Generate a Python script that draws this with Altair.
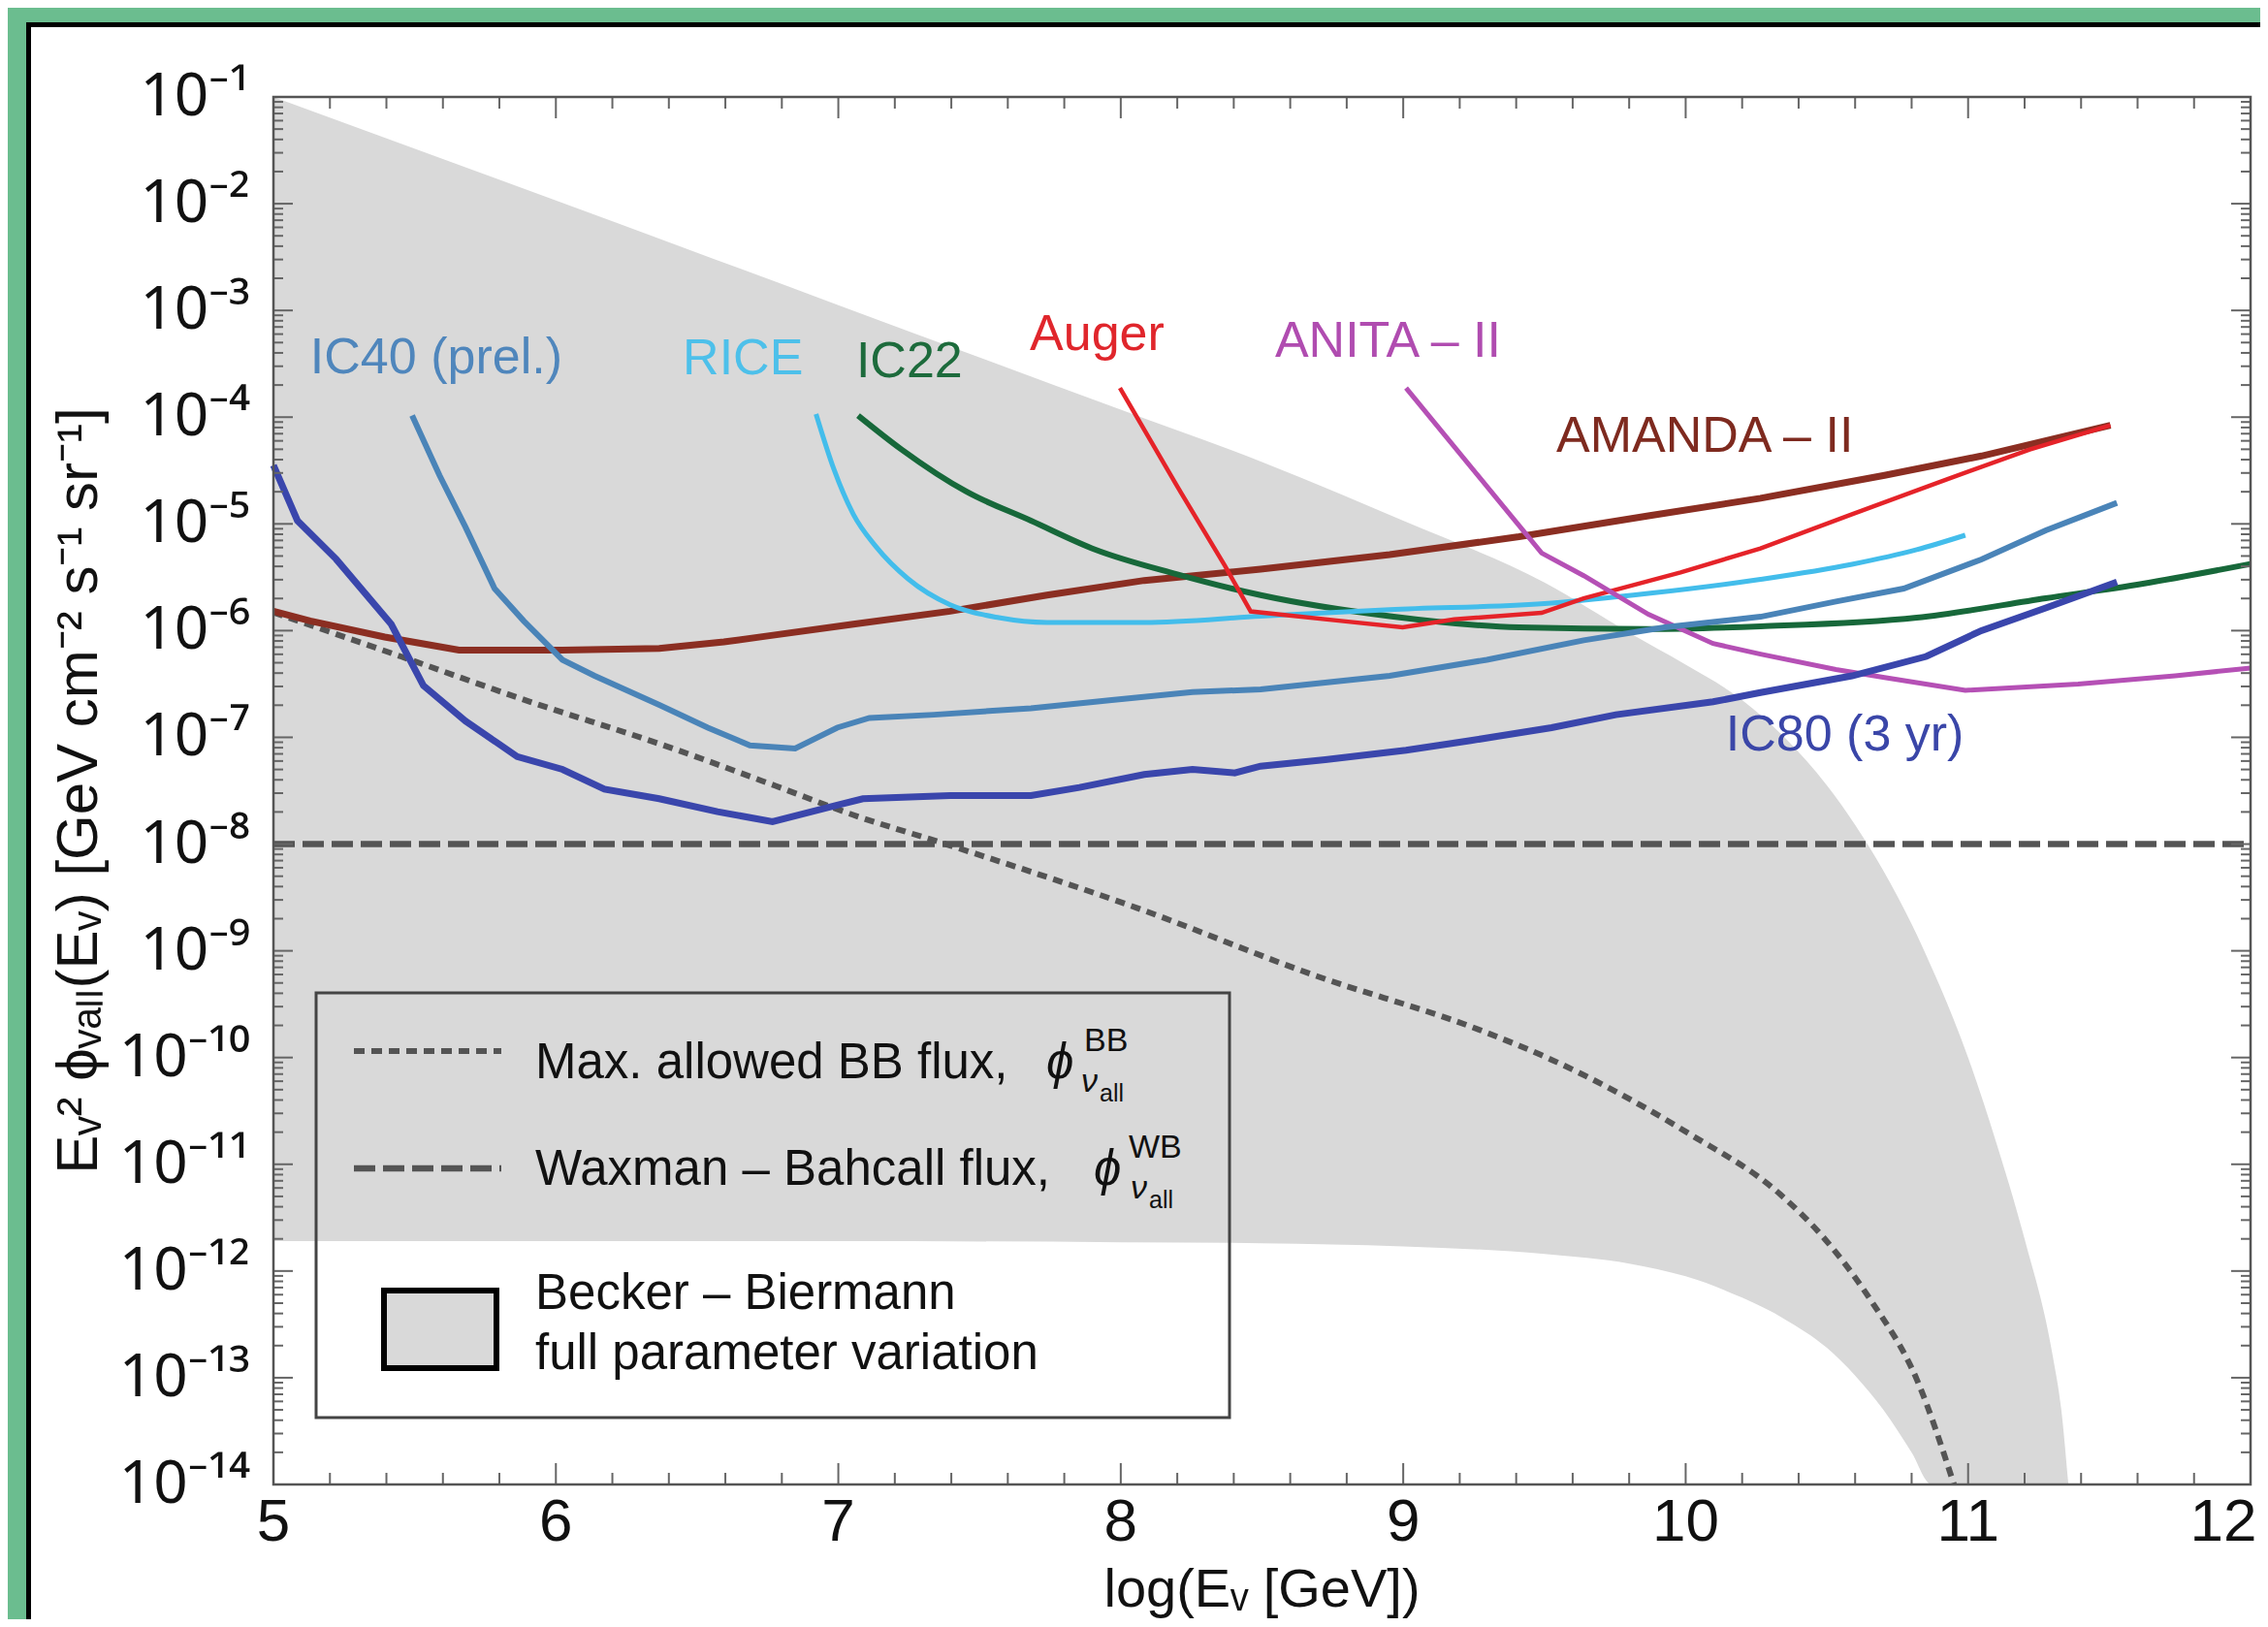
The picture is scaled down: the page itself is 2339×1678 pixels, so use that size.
import altair as alt
import pandas as pd

# ---------------- data ----------------
# x: log10(E / GeV); y: log10 of E^2 phi  [GeV cm^-2 s^-1 sr^-1]
ic80_x = [5.0, 5.085, 5.222, 5.417, 5.531, 5.68, 5.863, 6.023, 6.172, 6.366, 6.572, 6.767, 6.996, 7.087, 7.396,
          7.682, 7.854, 8.083, 8.254, 8.403, 8.495, 8.724, 9.01, 9.239, 9.525, 9.753, 10.097, 10.265, 10.589,
          10.852, 11.047, 11.275, 11.527]
ic80_y = [-4.45, -4.97, -5.33, -5.94, -6.515, -6.848, -7.18, -7.30, -7.485, -7.575, -7.697, -7.79, -7.636, -7.575,
          -7.545, -7.545, -7.469, -7.348, -7.30, -7.333, -7.27, -7.21, -7.12, -7.03, -6.91, -6.788, -6.667, -6.58,
          -6.424, -6.242, -6.0, -5.788, -5.545]

ic40_x = [5.491, 5.588, 5.68, 5.783, 5.886, 6.023, 6.137, 6.366, 6.538, 6.687, 6.847, 6.996, 7.11, 7.339, 7.682,
          7.968, 8.254, 8.495, 8.952, 9.296, 9.639, 9.925, 10.265, 10.532, 10.772, 11.047, 11.275, 11.527]
ic40_y = [-3.985, -4.545, -5.03, -5.606, -5.909, -6.273, -6.424, -6.697, -6.909, -7.075, -7.105, -6.909, -6.818,
          -6.788, -6.727, -6.651, -6.576, -6.55, -6.424, -6.273, -6.091, -5.97, -5.87, -5.727, -5.606, -5.333,
          -5.06, -4.803]

rice_x = [6.921, 6.984, 7.053, 7.133, 7.247, 7.396, 7.568, 7.739, 8.083, 8.495, 8.952, 9.525, 9.868, 10.265,
          10.589, 10.818, 10.99]
rice_y = [-3.97, -4.485, -4.909, -5.212, -5.515, -5.758, -5.879, -5.924, -5.924, -5.865, -5.803, -5.742, -5.652,
          -5.52, -5.379, -5.242, -5.106]

ic22_x = [7.07, 7.224, 7.453, 7.682, 7.911, 8.197, 8.495, 8.952, 9.41, 9.868, 10.265, 10.818, 11.275, 11.619, 12.0]
ic22_y = [-3.985, -4.303, -4.697, -4.97, -5.242, -5.47, -5.667, -5.864, -5.97, -5.985, -5.96, -5.879, -5.697,
          -5.56, -5.375]

auger_x = [7.997, 8.197, 8.369, 8.46, 8.78, 8.998, 9.181, 9.49, 9.639, 9.982, 10.265, 10.589, 10.932, 11.218, 11.504]
auger_y = [-3.727, -4.636, -5.394, -5.82, -5.909, -5.97, -5.894, -5.833, -5.697, -5.455, -5.23, -4.909, -4.576,
           -4.303, -4.076]

anita_x = [9.01, 9.49, 9.639, 9.868, 10.097, 10.265, 10.532, 10.704, 10.99, 11.39, 11.733, 12.0]
anita_y = [-3.727, -5.273, -5.485, -5.848, -6.121, -6.22, -6.364, -6.439, -6.56, -6.5, -6.424, -6.35]

amanda_x = [5.0, 5.13, 5.394, 5.657, 6.023, 6.366, 6.595, 6.75, 7.053, 7.396, 7.739, 8.083, 8.495, 8.952, 9.41,
            9.868, 10.265, 10.704, 11.047, 11.504]
amanda_y = [-5.818, -5.909, -6.06, -6.182, -6.182, -6.167, -6.106, -6.05, -5.94, -5.818, -5.667, -5.53, -5.425,
            -5.288, -5.12, -4.924, -4.76, -4.545, -4.364, -4.076]

bb_x = [5.0, 5.451, 5.909, 6.366, 6.778, 7.053, 7.38, 8.059, 8.67, 9.284, 9.525, 10.01, 10.334, 10.496, 10.657,
        10.819, 10.95]
bb_y = [-5.83, -6.242, -6.667, -7.06, -7.455, -7.727, -8.0, -8.6, -9.215, -9.755, -10.02, -10.71, -11.28, -11.71,
        -12.28, -13.02, -14.0]

wb_x = [5.0, 12.0]
wb_y = [-8.0, -8.0]

band_x = [5.0, 6.0, 7.0, 8.0, 8.5, 9.0, 9.5, 9.8, 10.0, 10.2, 10.35, 10.5, 10.6, 10.7, 10.8, 10.87, 10.9, 11.0,
          11.1, 11.2, 11.3, 11.33, 11.355]
band_hi = [-1.0, -1.97, -2.95, -3.93, -4.42, -4.97, -5.55, -6.02, -6.32, -6.65, -7.0, -7.45, -7.82, -8.25, -8.75,
           -9.15, -9.33, -10.0, -10.8, -11.7, -12.8, -13.3, -14.0]
band_lo = [-11.72, -11.72, -11.72, -11.73, -11.74, -11.77, -11.84, -11.93, -12.05, -12.25, -12.45, -12.72, -12.98,
           -13.3, -13.7, -14.0, -14.0, -14.0, -14.0, -14.0, -14.0, -14.0, -14.0]

label_text = ["IC40 (prel.)", "RICE", "IC22", "Auger", "ANITA \u2013 II", "AMANDA \u2013 II", "IC80 (3 yr)"]
label_x = [5.13, 6.449, 7.063, 7.678, 8.546, 9.542, 10.142]
label_y = [-3.59, -3.60, -3.627, -3.373, -3.436, -4.327, -7.127]

x_ticks = [5, 6, 7, 8, 9, 10, 11, 12]
x_tick_labels = [str(v) for v in x_ticks]
y_exps = list(range(-1, -15, -1))
SUP = str.maketrans("-0123456789", "\u207b\u2070\u00b9\u00b2\u00b3\u2074\u2075\u2076\u2077\u2078\u2079")
y_tick_labels = ["10" + str(e).translate(SUP) for e in y_exps]
x_title = "log(E\u1d65 [GeV])"
y_title = "E\u1d65\u00b2 \u03d5\u1d65\u2090\u2097\u2097(E\u1d65) [GeV cm\u207b\u00b2 s\u207b\u00b9 sr\u207b\u00b9]"

# ---------------- styles ----------------
W, H = 2039, 1431
FONT = "Liberation Sans"
SUP_FONT = "Noto Sans"
GRAY_LINE = "#545454"
BAND = "#D9D9D9"
GREEN = "#6BBD8F"
series = [
    ("AMANDA-II", amanda_x, amanda_y, "#8B2E22", 7, "linear"),
    ("IC22", ic22_x, ic22_y, "#17683A", 6, "monotone"),
    ("RICE", rice_x, rice_y, "#43BDEB", 5, "monotone"),
    ("Auger", auger_x, auger_y, "#E52329", 4.5, "linear"),
    ("ANITA-II", anita_x, anita_y, "#B550B5", 5, "linear"),
    ("IC40", ic40_x, ic40_y, "#4A84B8", 6, "linear"),
    ("IC80", ic80_x, ic80_y, "#3A46AC", 7, "linear"),
]
label_colors = ["#4F86BC", "#4DC0EA", "#1D6B3C", "#E0262C", "#B04CB0", "#7E2A1F", "#3A46A8"]

X = alt.Scale(domain=[5, 12], nice=False, zero=False)
Y = alt.Scale(type="log", domain=[1e-14, 1e-1], nice=False)


def ex(field):
    return alt.X(f"{field}:Q", scale=X, axis=None)


def ey(field):
    return alt.Y(f"{field}:Q", scale=Y, axis=None)


def curve_df(xs, ys):
    return pd.DataFrame({"logE": xs, "flux": [10.0 ** v for v in ys]})


one = pd.DataFrame({"k": [0]})
layers = []

# Becker-Biermann band
band_df = pd.DataFrame({"logE": band_x, "hi": [10.0 ** v for v in band_hi], "lo": [10.0 ** v for v in band_lo]})
layers.append(alt.Chart(band_df).mark_area(color=BAND, interpolate="monotone").encode(
    x=ex("logE"), y=ey("hi"), y2="lo:Q"))

# green page border with black edge (decoration outside the plot)
layers.append(alt.Chart(one).mark_rect(fill=GREEN).encode(
    x=alt.value(-300), x2=alt.value(W + 200), y=alt.value(-120), y2=alt.value(-77)))
layers.append(alt.Chart(one).mark_rect(fill=GREEN).encode(
    x=alt.value(-300), x2=alt.value(-255), y=alt.value(-120), y2=alt.value(H + 300)))
layers.append(alt.Chart(one).mark_rule(color="black", strokeWidth=5).encode(
    x=alt.value(-255), x2=alt.value(W + 200), y=alt.value(-74.5)))
layers.append(alt.Chart(one).mark_rule(color="black", strokeWidth=5).encode(
    x=alt.value(-252.5), y=alt.value(-77), y2=alt.value(H + 300)))

# Waxman-Bahcall and max BB flux
layers.append(alt.Chart(curve_df(wb_x, wb_y)).mark_line(color=GRAY_LINE, strokeWidth=6.5, strokeDash=[22, 8]).encode(
    x=ex("logE"), y=ey("flux")))
layers.append(alt.Chart(curve_df(bb_x, bb_y)).mark_line(color=GRAY_LINE, strokeWidth=6, strokeDash=[10, 7],
                                                      interpolate="monotone").encode(
    x=ex("logE"), y=ey("flux")))

# experiment sensitivities
for name, xs, ys, col, w, interp in series:
    layers.append(alt.Chart(curve_df(xs, ys)).mark_line(color=col, strokeWidth=w, interpolate=interp,
                                                        strokeCap="butt").encode(
        x=ex("logE"), y=ey("flux")))

# inward ticks on all four sides
x_minor = [round(5 + 0.2 * i, 1) for i in range(36) if i % 5]
y_major = [10.0 ** e for e in range(-14, 0)]
y_minor = [k * 10.0 ** e for e in range(-14, -1) for k in range(2, 10)]
TICK = dict(color="#666", strokeWidth=2)
for vals, big in ((x_ticks, 22), (x_minor, 12)):
    d = pd.DataFrame({"v": vals})
    layers.append(alt.Chart(d).mark_rule(**TICK).encode(x=ex("v"), y=alt.value(H - big), y2=alt.value(H)))
    layers.append(alt.Chart(d).mark_rule(**TICK).encode(x=ex("v"), y=alt.value(0), y2=alt.value(big)))
for vals, big in ((y_major, 20), (y_minor, 10)):
    d = pd.DataFrame({"v": vals})
    layers.append(alt.Chart(d).mark_rule(**TICK).encode(y=ey("v"), x=alt.value(0), x2=alt.value(big)))
    layers.append(alt.Chart(d).mark_rule(**TICK).encode(y=ey("v"), x=alt.value(W - big), x2=alt.value(W)))

# plot frame
layers.append(alt.Chart(one).mark_rect(fillOpacity=0, stroke="#555", strokeWidth=2.5).encode(
    x=alt.value(0), x2=alt.value(W), y=alt.value(0), y2=alt.value(H)))

# tick labels (placed through the scales) and axis titles
xl = pd.DataFrame({"v": x_ticks[:-1], "lab": x_tick_labels[:-1]})
layers.append(alt.Chart(xl).mark_text(align="center", baseline="top", fontSize=62, font=FONT, color="#111").encode(
    x=ex("v"), y=alt.value(H + 9), text="lab:N"))
xl_last = pd.DataFrame({"v": x_ticks[-1:], "lab": x_tick_labels[-1:]})
layers.append(alt.Chart(xl_last).mark_text(align="center", baseline="top", fontSize=62, font=FONT, color="#111",
                                           dx=-28).encode(
    x=ex("v"), y=alt.value(H + 9), text="lab:N"))
yl = pd.DataFrame({"v": [10.0 ** e for e in y_exps], "lab": y_tick_labels})
layers.append(alt.Chart(yl).mark_text(align="right", baseline="middle", fontSize=62, font=SUP_FONT,
                                      color="#111").encode(
    y=ey("v"), x=alt.value(-24), text="lab:N"))
layers.append(alt.Chart(one).mark_text(align="center", baseline="alphabetic", fontSize=56, font=FONT,
                                       color="#111", text=x_title).encode(
    x=alt.value(W / 2), y=alt.value(H + 126)))
layers.append(alt.Chart(one).mark_text(align="center", baseline="alphabetic", fontSize=60, font=FONT,
                                       color="#111", angle=270, text=y_title).encode(
    x=alt.value(-182), y=alt.value(H / 2)))

# curve labels
for t, lx, ly, c in zip(label_text, label_x, label_y, label_colors):
    d = pd.DataFrame({"logE": [lx], "flux": [10.0 ** ly], "t": [t]})
    layers.append(alt.Chart(d).mark_text(align="left", baseline="alphabetic", fontSize=52, font=FONT,
                                         color=c).encode(x=ex("logE"), y=ey("flux"), text="t:N"))

# legend
layers.append(alt.Chart(one).mark_rect(fillOpacity=0, stroke="#444", strokeWidth=3).encode(
    x=alt.value(44), x2=alt.value(986), y=alt.value(924), y2=alt.value(1362)))
layers.append(alt.Chart(one).mark_rule(color=GRAY_LINE, strokeWidth=6, strokeDash=[11, 7]).encode(
    x=alt.value(83), x2=alt.value(235), y=alt.value(984)))
layers.append(alt.Chart(one).mark_rule(color=GRAY_LINE, strokeWidth=6.5, strokeDash=[22, 8]).encode(
    x=alt.value(83), x2=alt.value(235), y=alt.value(1105)))
layers.append(alt.Chart(one).mark_rect(fill=BAND, stroke="black", strokeWidth=6).encode(
    x=alt.value(114), x2=alt.value(230), y=alt.value(1231), y2=alt.value(1311)))


def txt(s, x, y, size, italic=False):
    kw = dict(align="left", baseline="alphabetic", fontSize=size, font=FONT, color="#111", text=s)
    if italic:
        kw["fontStyle"] = "italic"
    return alt.Chart(one).mark_text(**kw).encode(x=alt.value(x), y=alt.value(y))


layers += [
    txt("Max. allowed BB flux,", 270, 1012, 51),
    txt("\u03d5", 797, 1012, 51, True),
    txt("BB", 836, 984, 34),
    txt("\u03bd", 833, 1026, 34, True),
    txt("all", 852, 1036, 25),
    txt("Waxman \u2013 Bahcall flux,", 270, 1122, 51),
    txt("\u03d5", 846, 1122, 51, True),
    txt("WB", 882, 1094, 34),
    txt("\u03bd", 884, 1136, 34, True),
    txt("all", 903, 1146, 25),
    txt("Becker \u2013 Biermann", 270, 1250, 51),
    txt("full parameter variation", 270, 1312, 51),
]

chart = alt.layer(*layers).properties(
    width=W, height=H,
    autosize=alt.AutoSizeParams(type="none"),
    padding={"left": 274, "top": 92, "right": 10, "bottom": 139},
    background="white",
).configure(font=FONT).configure_view(strokeWidth=0)

chart.save("out.html", embed_options={"renderer": "svg", "actions": False})
